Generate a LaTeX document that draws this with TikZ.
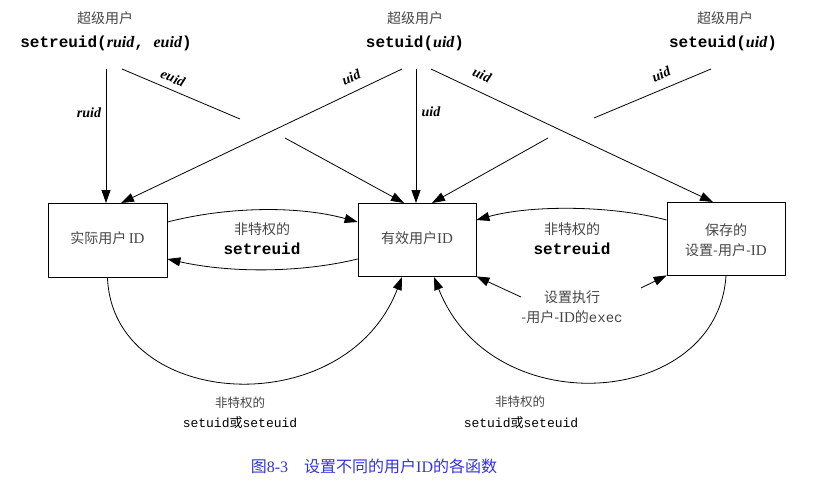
\documentclass[tikz,border=0pt]{standalone}
\usepackage{fontspec}
\setmainfont{Liberation Serif}
\setmonofont{Liberation Mono}
\newfontfamily\cjk{Noto Sans CJK SC}
\usetikzlibrary{arrows.meta}
\definecolor{txtgray}{RGB}{70,70,70}
\definecolor{capblue}{RGB}{50,50,225}
\begin{document}
\begin{tikzpicture}[x=1pt,y=-1pt,
  conn/.style={line width=0.8pt},
  arr/.style={conn,-{Triangle[length=13pt,width=9pt]}},
  zh/.style={font=\cjk\fontsize{14}{16}\selectfont,text=txtgray,inner sep=0pt},
  zhs/.style={font=\cjk\fontsize{12.5}{14}\selectfont,text=txtgray,inner sep=0pt},
  fn/.style={font=\ttfamily\bfseries\fontsize{16}{18}\selectfont,inner sep=0pt},
  fnl/.style={font=\ttfamily\fontsize{13}{15}\selectfont,inner sep=0pt},
  argl/.style={font=\itshape\bfseries\fontsize{14}{16}\selectfont,inner sep=0pt},
  idbox/.style={draw,line width=0.8pt,inner sep=0pt}]
\useasboundingbox (0,0) rectangle (814,491);

% top labels
\node[zh] (su1) at (105,18) {超级用户};
\node[fn] (f1) at (106,43) {setreuid({\rmfamily\itshape ruid}, {\rmfamily\itshape euid})};
\node[zh] (su2) at (415,18) {超级用户};
\node[fn] (f2) at (415,43) {setuid({\rmfamily\itshape uid})};
\node[zh] (su3) at (725,18) {超级用户};
\node[fn] (f3) at (723,43) {seteuid({\rmfamily\itshape uid})};

% boxes
\node[idbox,minimum width=119pt,minimum height=74pt] (real) at (107.5,240) {};
\node[zh] (realt) at (107.5,238) {实际用户\,{\rmfamily\fontsize{15}{16}\selectfont ID}};
\node[idbox,minimum width=118pt,minimum height=73pt] (eff) at (417,239.5) {};
\node[zh] (efft) at (417,238) {有效用户{\rmfamily\fontsize{15}{16}\selectfont ID}};
\node[idbox,minimum width=118pt,minimum height=73pt] (sav) at (726,238.5) {};
\node[zh] (savt1) at (726,230) {保存的};
\node[zh] (savt2) at (726,250) {设置-用户-{\rmfamily\fontsize{15}{16}\selectfont ID}};

% start coordinates
\coordinate (a1) at (106,69);
\coordinate (a2) at (122,69);
\coordinate (b1) at (402,69);
\coordinate (b2) at (416,69);
\coordinate (b3) at (431,69);
\coordinate (c1) at (711,69);
\coordinate (g1) at (240,119);
\coordinate (g2) at (285,138);
\coordinate (g3) at (594,118);
\coordinate (g4) at (548,138);
\coordinate (e1) at (106,203);
\coordinate (e2) at (121,203);
\coordinate (e3) at (404,203);
\coordinate (e4) at (416,203);
\coordinate (e5) at (432,203);
\coordinate (e6) at (713,202);

\draw[arr] (a1) -- (e1);
\draw[conn] (a2) -- (g1);
\draw[arr] (g2) -- (e3);
\draw[arr] (b1) -- (e2);
\draw[arr] (b2) -- (e4);
\draw[arr] (b3) -- (e6);
\draw[conn] (c1) -- (g3);
\draw[arr] (g4) -- (e5);

\node[argl] (l1) at (89,113) {ruid};
\node[argl,rotate=-23] (l2) at (173,78) {euid};
\node[argl,rotate=23] (l3) at (351,77) {uid};
\node[argl] (l4) at (431,112) {uid};
\node[argl,rotate=-23] (l5) at (482,75) {uid};
\node[argl,rotate=23] (l6) at (661,74) {uid};

% middle curves
\draw[arr] (real.east|-0,222) .. controls (230,206) and (300,206) .. (eff.west|-0,222);
\draw[arr] (eff.west|-0,259) .. controls (300,273) and (230,273) .. (real.east|-0,259);
\draw[arr] (sav.west|-0,220) .. controls (610,205) and (530,205) .. (eff.east|-0,220);
\node[zh] (m1) at (262,229) {非特权的};
\node[fn] (m2) at (262,249) {setreuid};
\node[zh] (m3) at (572,229) {非特权的};
\node[fn] (m4) at (572,249) {setreuid};

\node[zh] (x1) at (572,297) {设置执行};
\node[zh] (x2) at (572,317) {-用户-{\rmfamily\fontsize{15}{16}\selectfont ID}的{\ttfamily\fontsize{14}{16}\selectfont exec}};
\coordinate (x1l) at (521,297);
\coordinate (x1r) at (641,288);
\draw[arr] (x1l) -- (eff.south east);
\draw[arr] (x1r) -- (sav.south west);

% bottom arcs
\draw[arr] (real.south) .. controls (112,410) and (345,425) .. (402,277);
\draw[arr] (sav.south) .. controls (718,408) and (492,425) .. (434,277);

\node[zhs] (n1) at (240,403) {非特权的};
\node[fnl] (n2) at (240,423) {setuid{\cjk 或}seteuid};
\node[zhs] (n3) at (520,402) {非特权的};
\node[fnl] (n4) at (521,423) {setuid{\cjk 或}seteuid};

\node[text=capblue,inner sep=0pt,font=\fontsize{16}{18}\selectfont] (cap) at (374,466) {{\cjk 图}8-3\hspace{1em}{\cjk 设置不同的用户}ID{\cjk 的各函数}};
\end{tikzpicture}
\end{document}
